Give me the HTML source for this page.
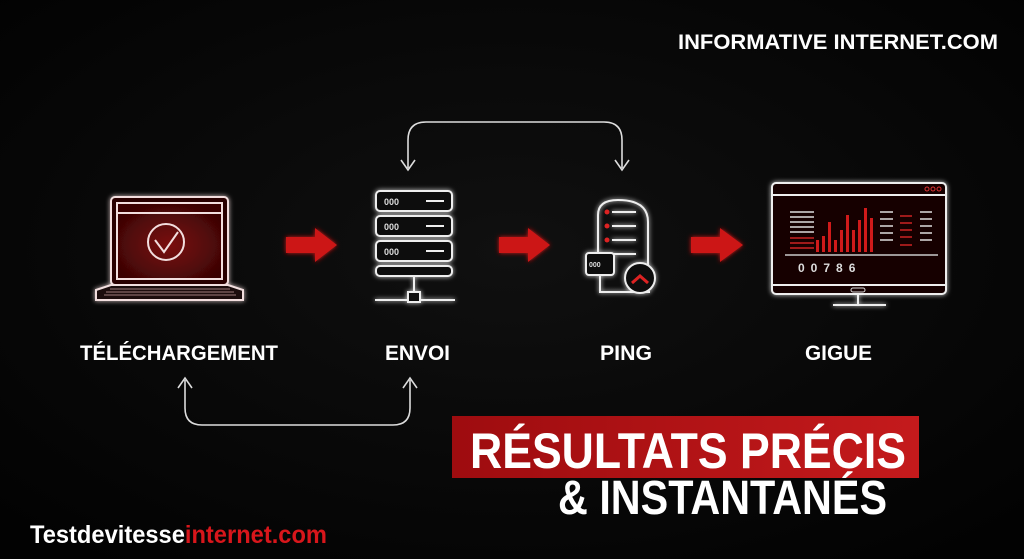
<!DOCTYPE html>
<html><head><meta charset="utf-8"><style>
html,body{margin:0;padding:0;background:#000;}
svg{display:block}
text{font-family:"Liberation Sans",sans-serif;font-weight:bold;}
</style></head><body>
<svg width="1024" height="559" viewBox="0 0 1024 559" xmlns="http://www.w3.org/2000/svg">
<defs>
<radialGradient id="bg" cx="50%" cy="45%" r="70%"><stop offset="0" stop-color="#101010"/><stop offset="1" stop-color="#020202"/></radialGradient>
<radialGradient id="scr" cx="50%" cy="55%" r="60%"><stop offset="0" stop-color="#7a0c0c"/><stop offset="1" stop-color="#3a0505"/></radialGradient>
<linearGradient id="ban" x1="0" x2="1"><stop offset="0" stop-color="#9e0c0f"/><stop offset="1" stop-color="#c41a1c"/></linearGradient>
<filter id="gl"><feGaussianBlur stdDeviation="2.5" result="b"/><feMerge><feMergeNode in="b"/><feMergeNode in="SourceGraphic"/></feMerge></filter>
</defs>
<rect width="1024" height="559" fill="url(#bg)"/>
<text x="678" y="49" font-size="21" fill="#fff" textLength="320" lengthAdjust="spacingAndGlyphs">INFORMATIVE INTERNET.COM</text>

<g fill="none" stroke="#ddd" stroke-width="1.6">
<path d="M408 168 V140 Q408 122 426 122 H604 Q622 122 622 140 V168"/>
<path d="M401 160 L408 170 L415 160 M615 160 L622 170 L629 160"/>
<path d="M185 380 V408 Q185 425 202 425 H393 Q410 425 410 408 V380"/>
<path d="M178 388 L185 378 L192 388 M403 388 L410 378 L417 388"/>
</g>

<g filter="url(#gl)" stroke="#f2dede" stroke-width="2" fill="none">
<rect x="111" y="197" width="117" height="88" rx="4" fill="#2a0404"/>
<rect x="117" y="203" width="105" height="76" fill="url(#scr)"/>
<line x1="117" y1="213" x2="222" y2="213"/>
<path d="M96 290 L111 285 H228 L243 290 V300 H96 Z" fill="#1a1010"/>
<circle cx="166" cy="242" r="18"/>
<path d="M155 240 L164 252 L178 232"/>
</g>
<g stroke="#c9a0a0" stroke-width="0.8"><path d="M110 289 H230 M106 292 H234 M104 295 H236"/></g>
<g fill="#cc1518" filter="url(#gl)">
<path d="M286 237 H315 V228 L337 245 L315 262 V253 H286 Z"/>
<path d="M499 237 H528 V228 L550 245 L528 262 V253 H499 Z"/>
<path d="M691 237 H720 V228 L743 245 L720 262 V253 H691 Z"/>
</g>
<g filter="url(#gl)" stroke="#eee" stroke-width="2" fill="#111">
<rect x="376" y="191" width="76" height="20" rx="4"/>
<rect x="376" y="216" width="76" height="20" rx="4"/>
<rect x="376" y="241" width="76" height="20" rx="4"/>
<rect x="376" y="266" width="76" height="10" rx="4"/>
<line x1="414" y1="276" x2="414" y2="292"/>
<line x1="375" y1="300" x2="455" y2="300"/>
<rect x="408" y="292" width="12" height="10"/>
<path d="M426 201 H444 M426 226 H444 M426 251 H444"/>
</g>
<g fill="#ddd" font-size="9"><text x="384" y="205">000</text><text x="384" y="230">000</text><text x="384" y="255">000</text></g>
<g filter="url(#gl)" stroke="#eee" stroke-width="2" fill="none">
<path d="M598 270 V215 Q598 200 618 200 Q648 200 648 222 V270"/>
<path d="M612 212 H636 M612 226 H636 M612 240 H636 M612 254 H636"/>
<rect x="586" y="253" width="28" height="22" rx="3" fill="#111"/>
<path d="M600 275 V292 H650"/>
<circle cx="640" cy="278" r="15" fill="#111"/>
<path d="M632 283 L640 276 L648 283" stroke="#d22" stroke-width="3"/>
</g>
<g fill="#ddd" font-size="7"><text x="589" y="267">000</text></g>
<g fill="#d22"><circle cx="607" cy="212" r="2.5"/><circle cx="607" cy="226" r="2.5"/><circle cx="607" cy="240" r="2.5"/></g>
<g filter="url(#gl)" stroke="#eee" stroke-width="2" fill="#150606">
<rect x="772" y="183" width="174" height="111" rx="4"/>
<line x1="772" y1="195" x2="946" y2="195"/>
<line x1="772" y1="285" x2="946" y2="285"/>
<path d="M858 294 V305 M833 305 H886"/>
<line x1="785" y1="255" x2="938" y2="255" stroke-width="1.2"/>
</g>
<g fill="none" stroke="#d33" stroke-width="1"><circle cx="927" cy="189" r="2"/><circle cx="933" cy="189" r="2"/><circle cx="939" cy="189" r="2"/></g>
<rect x="851" y="288" width="14" height="4" rx="2" fill="none" stroke="#ddd" stroke-width="1"/>
<g fill="#d01a1a">
<rect x="816" y="240" width="3" height="12"/><rect x="822" y="236" width="3" height="16"/><rect x="828" y="222" width="3" height="30"/><rect x="834" y="240" width="3" height="12"/><rect x="840" y="230" width="3" height="22"/><rect x="846" y="215" width="3" height="37"/><rect x="852" y="230" width="3" height="22"/><rect x="858" y="220" width="3" height="32"/><rect x="864" y="208" width="3" height="44"/><rect x="870" y="218" width="3" height="34"/>
</g>
<g stroke="#ddd" stroke-width="1.5"><path d="M790 212 H814 M790 217 H814 M790 222 H814 M790 227 H814 M790 232 H814 M880 212 H893 M880 219 H893 M880 226 H893 M880 233 H893 M880 240 H893 M920 212 H932 M920 219 H932 M920 226 H932 M920 233 H932 M920 240 H932"/></g>
<g stroke="#c22" stroke-width="1.5"><path d="M790 238 H814 M790 243 H814 M790 248 H814 M900 216 H912 M900 223 H912 M900 230 H912 M900 237 H912 M900 245 H912"/></g>
<text x="798" y="272" font-size="12" fill="#ddd" letter-spacing="6" font-weight="normal">00786</text>

<g font-size="21" fill="#fff">
<text x="80" y="360" textLength="198" lengthAdjust="spacingAndGlyphs">TÉLÉCHARGEMENT</text>
<text x="385" y="360" textLength="65" lengthAdjust="spacingAndGlyphs">ENVOI</text>
<text x="600" y="360" textLength="52" lengthAdjust="spacingAndGlyphs">PING</text>
<text x="805" y="360" textLength="67" lengthAdjust="spacingAndGlyphs">GIGUE</text>
</g>

<rect x="452" y="416" width="467" height="62" fill="url(#ban)"/>
<text x="470" y="468" font-size="50" fill="#fff" textLength="436" lengthAdjust="spacingAndGlyphs">RÉSULTATS PRÉCIS</text>
<text x="558" y="514" font-size="48" fill="#fff" textLength="329" lengthAdjust="spacingAndGlyphs">&amp; INSTANTANÉS</text>

<text x="30" y="543" font-size="25" fill="#fff" textLength="297" lengthAdjust="spacingAndGlyphs">Testdevitesse<tspan fill="#d8161b">internet.com</tspan></text>
</svg>
</body></html>
